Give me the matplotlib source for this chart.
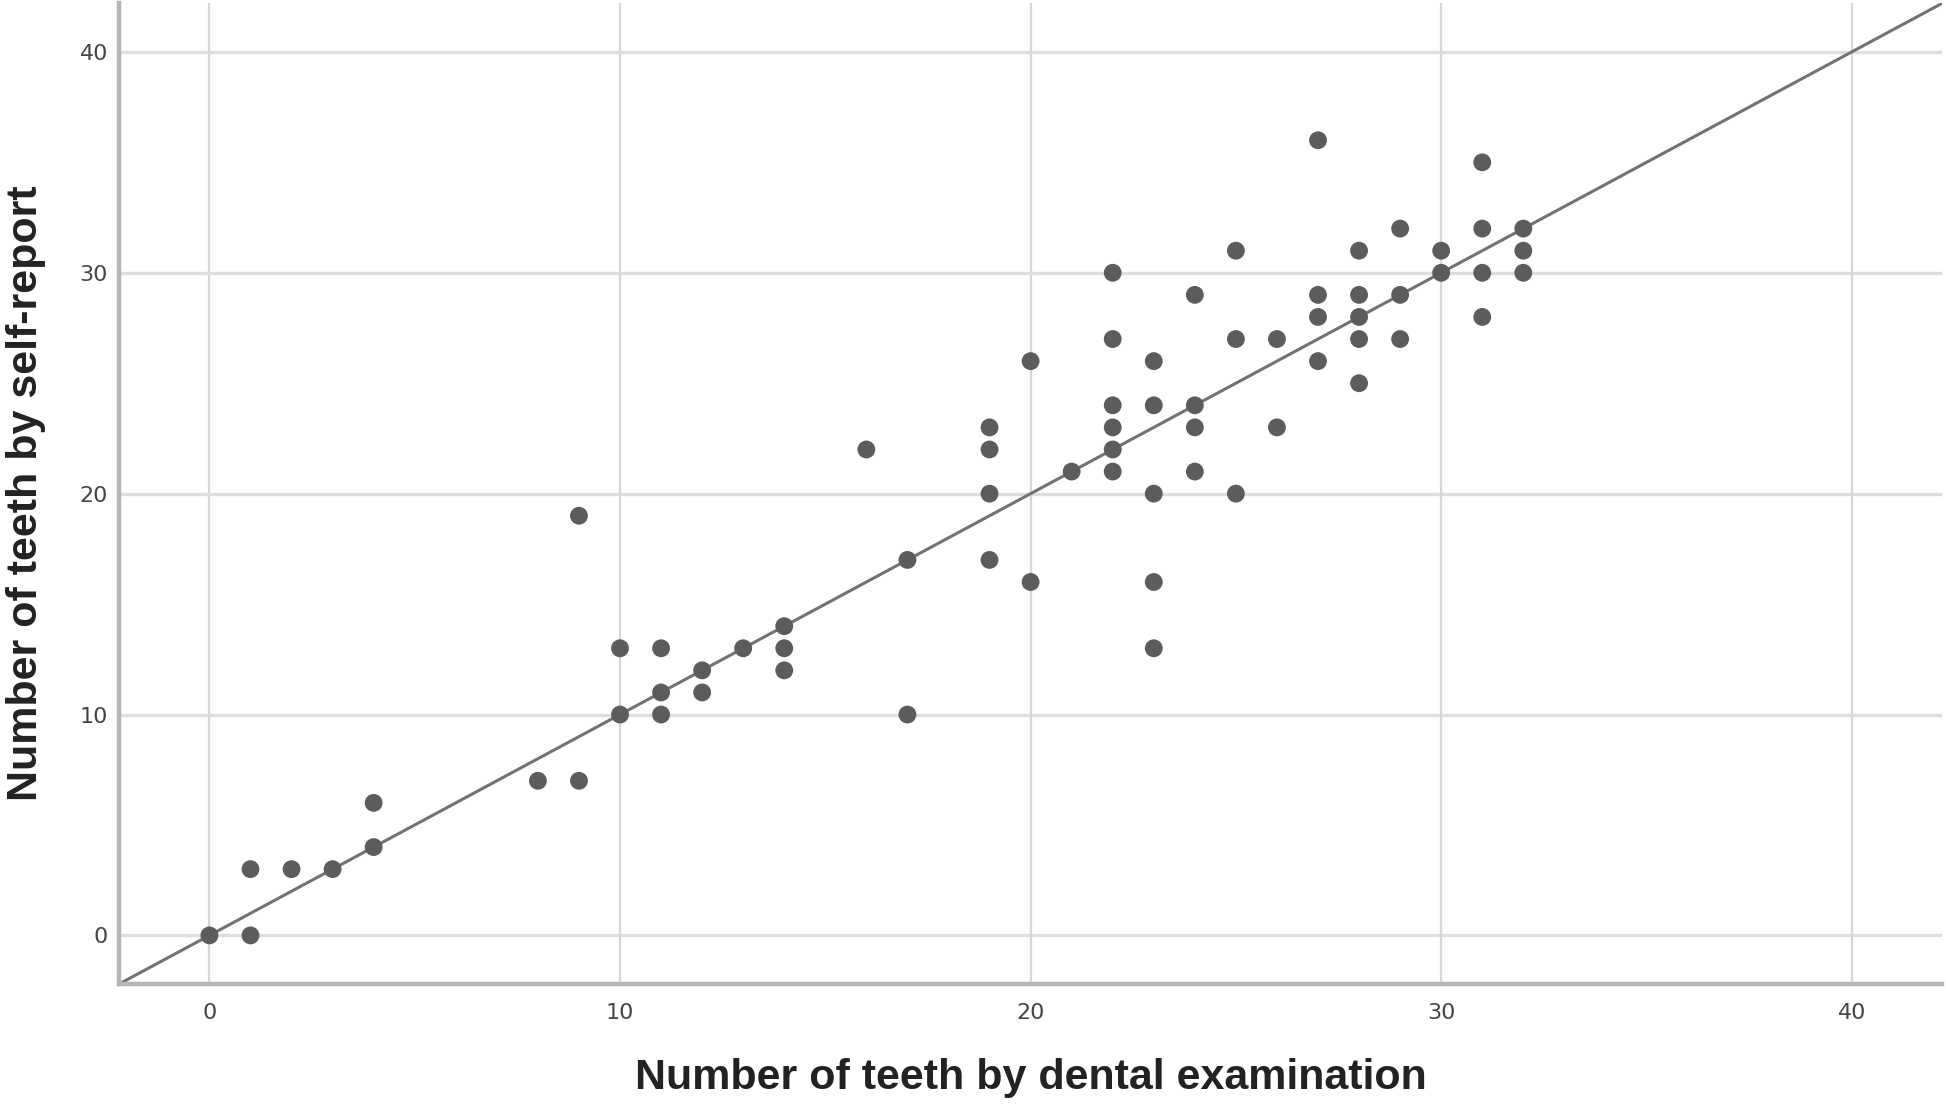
import numpy as np
import matplotlib
matplotlib.use("Agg")
import matplotlib.pyplot as plt

# teeth counts: dental examination (x) vs self-report (y)
exam = [0, 1, 1, 2, 3, 4, 4,
        8, 9, 9, 10, 10, 11, 11, 11, 12, 12, 13, 14, 14, 14,
        16, 17, 17,
        19, 19, 19, 19, 20, 20, 21,
        22, 22, 22, 22, 22, 22,
        23, 23, 23, 23, 23,
        24, 24, 24, 24,
        25, 25, 25, 26, 26,
        27, 27, 27, 27,
        28, 28, 28, 28, 28,
        29, 29, 29, 30, 30,
        31, 31, 31, 31, 32, 32, 32]
self_report = [0, 3, 0, 3, 3, 6, 4,
               7, 19, 7, 13, 10, 13, 11, 10, 12, 11, 13, 14, 13, 12,
               22, 17, 10,
               23, 22, 20, 17, 26, 16, 21,
               30, 27, 24, 23, 22, 21,
               26, 24, 20, 16, 13,
               29, 24, 23, 21,
               31, 27, 20, 27, 23,
               36, 29, 28, 26,
               31, 29, 28, 27, 25,
               32, 29, 27, 31, 30,
               35, 32, 30, 28, 32, 31, 30]

ticks = [0, 10, 20, 30, 40]
lims = (-2.2, 42.2)

fig = plt.figure(figsize=(19.46, 11.04), dpi=100)
ax = fig.add_axes([0.0612, 0.1087, 0.9368, 0.8883])

ax.set_xlim(lims)
ax.set_ylim(lims)
ax.set_xticks(ticks)
ax.set_yticks(ticks)

# grid
for t in ticks:
    ax.axvline(t, color='#d6d6d6', lw=1.6, zorder=0)
    ax.axhline(t, color='#dedede', lw=2.4, zorder=0)

# reference line y = x
ax.plot(lims, lims, color='#727272', lw=2.2, zorder=2)
ax.scatter(exam, self_report, s=165, color='#5c5c5c', edgecolors='none', zorder=3)

for side in ['top', 'right']:
    ax.spines[side].set_visible(False)
for side in ['left', 'bottom']:
    ax.spines[side].set_color('#b5b5b5')
    ax.spines[side].set_linewidth(3.2)

ax.tick_params(length=0, labelsize=16, labelcolor='#444444')
ax.tick_params(axis='x', pad=14)
ax.tick_params(axis='y', pad=8)
for lab in ax.get_xticklabels() + ax.get_yticklabels():
    lab.set_family(['Liberation Sans Narrow', 'DejaVu Sans'])

ax.set_xlabel('Number of teeth by dental examination', fontsize=31, fontweight='bold',
              family='Liberation Sans', color='#222222', labelpad=25)
ax.set_ylabel('Number of teeth by self-report', fontsize=31, fontweight='bold',
              family='Liberation Sans', color='#222222', labelpad=24)

fig.savefig('out.png', dpi=100)
